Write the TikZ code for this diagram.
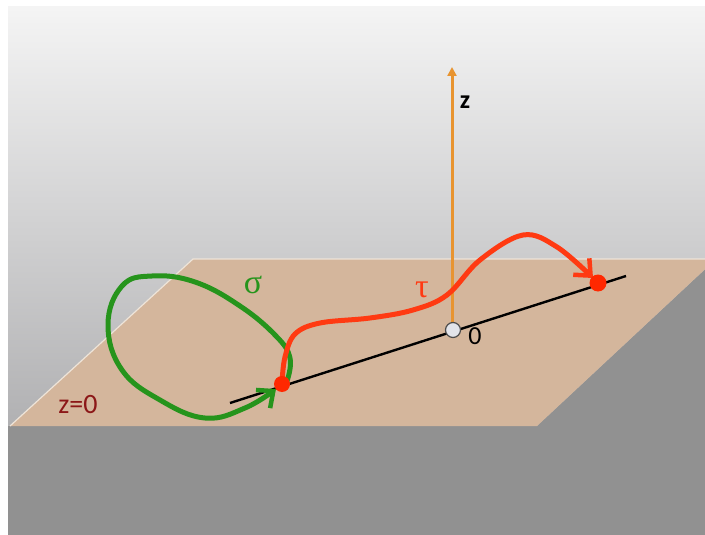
\documentclass[tikz,border=0pt]{standalone}
\usepackage{fontspec}
\newfontfamily\labelfont{Carlito}
\newfontfamily\greekfont{Liberation Serif}
\usetikzlibrary{arrows.meta}
\definecolor{bgtop}{RGB}{244,244,244}
\definecolor{bgbot}{RGB}{176,176,178}
\definecolor{floorgrey}{RGB}{145,145,145}
\definecolor{plane}{RGB}{212,182,156}
\definecolor{planeedge}{RGB}{238,228,216}
\definecolor{loopgreen}{RGB}{38,148,28}
\definecolor{pathred}{RGB}{255,58,18}
\definecolor{dotred}{RGB}{255,40,0}
\definecolor{axisorange}{RGB}{232,148,48}
\definecolor{labelred}{RGB}{140,24,24}
\definecolor{origfill}{RGB}{226,228,234}
\tikzset{
  curvestyle/.style={line width=5pt, line cap=round, line join=round},
  barbhead/.style={-{Straight Barb[length=13pt,width=23pt,line width=4.5pt]}},
  reddot/.style={circle, fill=dotred, inner sep=0pt, minimum size=16pt},
  txt/.style={inner sep=0pt}
}
\begin{document}
\begin{tikzpicture}[x=1pt,y=-1pt]
\useasboundingbox (0,0) rectangle (705,535);
\clip (0,0) rectangle (705,535);
% background
\fill[white] (0,0) rectangle (705,535);
\shade[top color=bgtop, bottom color=bgbot] (8,7) rectangle (705,430);
\fill[floorgrey] (8,426) -- (537,426) -- (716,259) -- (730,259) -- (730,540) -- (8,540) -- cycle;
% plane
\fill[plane] (10,426) -- (193,259) -- (716,259) -- (537,426) -- cycle;
\draw[planeedge, line width=1.2pt] (10,426) -- (193,259) -- (716,259);
% points
\coordinate (A) at (282,384);
\coordinate (B) at (598,283);
\coordinate (O) at (453,330);
\coordinate (L0) at (230,403);
\coordinate (L1) at (626,276);
\coordinate (ztip) at (452,67);
% black line
\draw[black, line width=2.4pt] (L0) -- (L1);
% z axis
\draw[axisorange, line width=3pt, -{Triangle[length=9pt,width=9pt]}] (452,324) -- (ztip);
\node[txt, font=\labelfont\bfseries\fontsize{26}{26}\selectfont] (zlab) at (465,102) {z};
% green loop sigma
\draw[loopgreen, curvestyle, barbhead] plot[smooth, tension=0.7] coordinates {
 (287,381) (290,358) (276,336) (240,306) (195,282) (152,276) (122,286)
 (108,325) (122,370) (160,400) (205,418) (245,408) (276,389)};
% red path tau
\draw[pathred, curvestyle, barbhead] plot[smooth, tension=0.6] coordinates {
 (282,383) (285,357) (295,334) (320,323) (370,318) (413,310) (447,295)
 (480,260) (523,235) (557,247) (593,278)};
% origin
\node[circle, draw=black!70, fill=origfill, line width=1.2pt, inner sep=0pt, minimum size=15pt] (orig) at (O) {};
\node[txt, font=\labelfont\fontsize{26}{26}\selectfont] (olab) at (475,336) {0};
% red dots
\node[reddot] (dA) at (A) {};
\node[reddot, minimum size=17pt] (dB) at (B) {};
% labels
\node[txt, text=loopgreen, font=\greekfont\fontsize{34}{34}\selectfont] (sig) at (253,285) {σ};
\node[txt, text=pathred, font=\greekfont\fontsize{34}{34}\selectfont] (tau) at (422,290) {τ};
\node[txt, text=labelred, font=\labelfont\fontsize{28}{28}\selectfont] (z0) at (78,405) {z=0};
\end{tikzpicture}
\end{document}
